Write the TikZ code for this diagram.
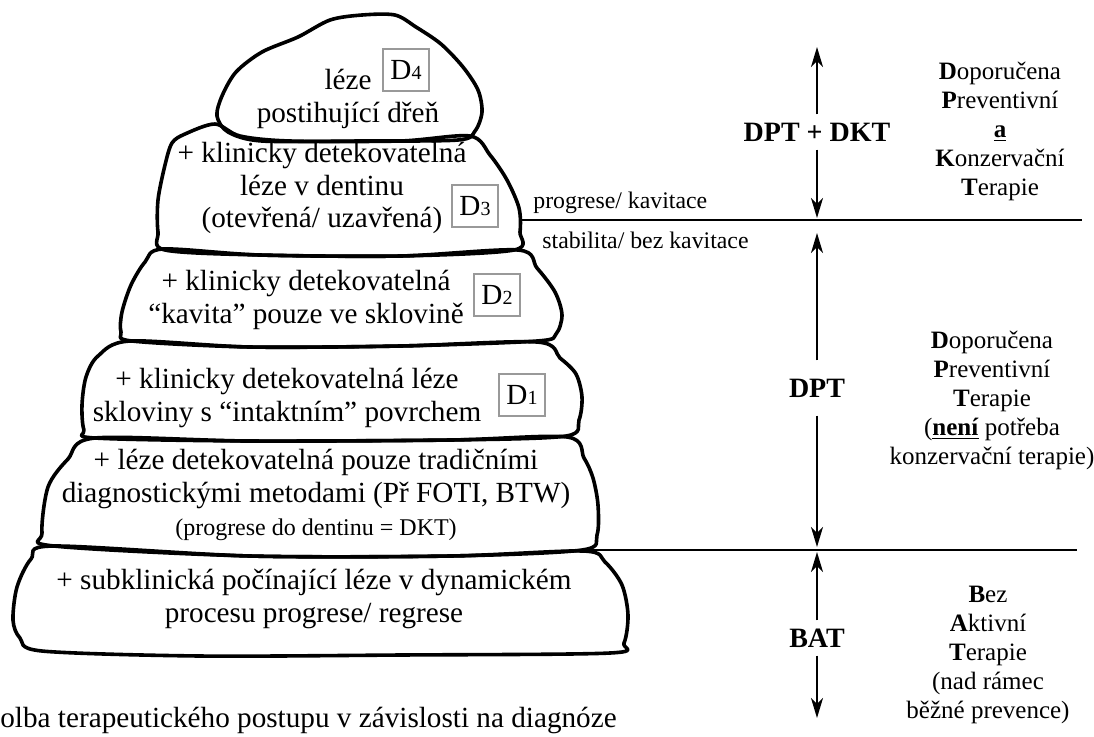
\documentclass[tikz,border=0pt]{standalone}
\usepackage{fontspec}
\setmainfont{Liberation Serif}
\usetikzlibrary{arrows.meta}

\begin{document}
\begin{tikzpicture}[
  x=0.5pt, y=-0.5pt,
  blob/.style={draw, line width=1.8pt, line join=round},
  txt/.style={align=center, inner sep=0pt, font=\fontsize{14.6}{16.3}\selectfont},
  dbox/.style={draw=black!40, line width=1pt, minimum width=23pt, minimum height=21pt, inner sep=0pt, font=\fontsize{14.6}{16}\selectfont},
  note/.style={anchor=west, inner sep=0pt, font=\fontsize{11.9}{14}\selectfont},
  therapy/.style={inner xsep=2pt, font=\fontsize{14}{16}\selectfont\bfseries},
  legend/.style={align=center, inner sep=0pt, font=\fontsize{12.5}{14.5}\selectfont},
  sep/.style={line width=1.3pt},
  arrow/.style={-{Stealth[length=10pt, width=6pt, inset=3pt]}, line width=1pt}
]
\useasboundingbox (0,0) rectangle (1094,736);

\draw[blob] plot[smooth cycle, tension=0.5] coordinates {(262,141) (228,132) (217,116) (222,96) (236,72) (262,52) (298,37) (330,20) (362,15) (395,15) (416,27) (441,44) (463,67) (478,90) (482,112) (475,131) (458,140) (360,141)};
\draw[blob] plot[smooth cycle, tension=0.5] coordinates {(185,134) (215,124) (240,136) (290,141) (400,141) (470,136) (490,155) (507,180) (519,208) (520,232) (514,250) (400,256) (260,255) (165,250) (158,232) (158,200) (165,165) (172,143)};
\draw[blob] plot[smooth cycle, tension=0.5] coordinates {(163,249) (145,262) (131,285) (122,312) (121,332) (132,341) (250,347) (400,346) (537,341) (556,334) (562,315) (555,292) (537,268) (518,250) (400,256) (260,255)};
\draw[blob] plot[smooth cycle, tension=0.5] coordinates {(130,341) (98,356) (86,377) (82,405) (84,430) (95,438) (250,441) (450,440) (566,436) (579,420) (582,397) (576,374) (560,358) (537,342) (400,346) (250,347)};
\draw[blob] plot[smooth cycle, tension=0.5] coordinates {(95,438) (68,459) (48,487) (42,533) (54,546) (250,556) (450,556) (582,550) (597,535) (598,505) (593,478) (584,458) (567,437) (450,440) (250,441)};
\draw[blob] plot[smooth cycle, tension=0.5] coordinates {(54,546) (31,559) (17,587) (13,620) (20,638) (42,651) (200,656) (400,655) (610,653) (624,643) (628,615) (622,585) (605,562) (583,551) (450,556) (250,556)};

\node[txt] (d4txt) at (348,99) {léze\\postihující dřeň};
\node[dbox] (d4) at (406,70) {D{\fontsize{10}{10}\selectfont 4}};
\node[txt] (d3txt) at (322,188) {+ klinicky detekovatelná\\léze v dentinu\\(otevřená/ uzavřená)};
\node[dbox] (d3) at (475,206) {D{\fontsize{10}{10}\selectfont 3}};
\node[txt] (d2txt) at (306,300) {+ klinicky detekovatelná\\“kavita” pouze ve sklovině};
\node[dbox] (d2) at (497,295) {D{\fontsize{10}{10}\selectfont 2}};
\node[txt] (d1txt) at (287,398) {+ klinicky detekovatelná léze\\skloviny s “intaktním” povrchem};
\node[dbox] (d1) at (522,395) {D{\fontsize{10}{10}\selectfont 1}};
\node[txt] (fotitxt) at (316,495) {+ léze detekovatelná pouze tradičními\\diagnostickými metodami (Př FOTI, BTW)\\{\fontsize{12}{14}\selectfont (progrese do dentinu = DKT)}};
\node[txt] (subtxt) at (314,599) {+ subklinická počínající léze v dynamickém\\procesu progrese/ regrese};
\node[txt, anchor=west] (caption) at (0,720) {olba terapeutického postupu v závislosti na diagnóze};

\coordinate (cav1) at (521,220);
\coordinate (cav2) at (1082,220);
\coordinate (sub1) at (585,550);
\coordinate (sub2) at (1077,550);
\draw[sep] (cav1) -- (cav2);
\draw[sep] (sub1) -- (sub2);
\node[note] (prog) at (533,203) {progrese/ kavitace};
\node[note] (stab) at (542,240) {stabilita/ bez kavitace};

\node[therapy, inner ysep=4pt] (dptdkt) at (817,132) {DPT + DKT};
\node[therapy, inner ysep=9pt] (dpt) at (817,388) {DPT};
\node[therapy, inner ysep=4pt] (bat) at (817,638) {BAT};
\coordinate (dktup) at (817,47);
\coordinate (dktdown) at (817,218);
\coordinate (dptup) at (817,233);
\coordinate (dptdown) at (817,547);
\coordinate (batup) at (817,552);
\coordinate (batdown) at (817,718);
\draw[arrow] (dptdkt) -- (dktup);
\draw[arrow] (dptdkt) -- (dktdown);
\draw[arrow] (dpt) -- (dptup);
\draw[arrow] (dpt) -- (dptdown);
\draw[arrow] (bat) -- (batup);
\draw[arrow] (bat) -- (batdown);

\node[legend] (dpktlegend) at (1000,131) {\textbf{D}oporučena\\\textbf{P}reventivní\\\underline{\textbf{a}}\\\textbf{K}onzervační\\\textbf{T}erapie};
\node[legend] (dptlegend) at (992,400) {\textbf{D}oporučena\\\textbf{P}reventivní\\\textbf{T}erapie\\(\underline{\textbf{není}} potřeba\\konzervační terapie)};
\node[legend] (batlegend) at (988,655) {\textbf{B}ez\\\textbf{A}ktivní\\\textbf{T}erapie\\(nad rámec\\běžné prevence)};
\end{tikzpicture}
\end{document}
